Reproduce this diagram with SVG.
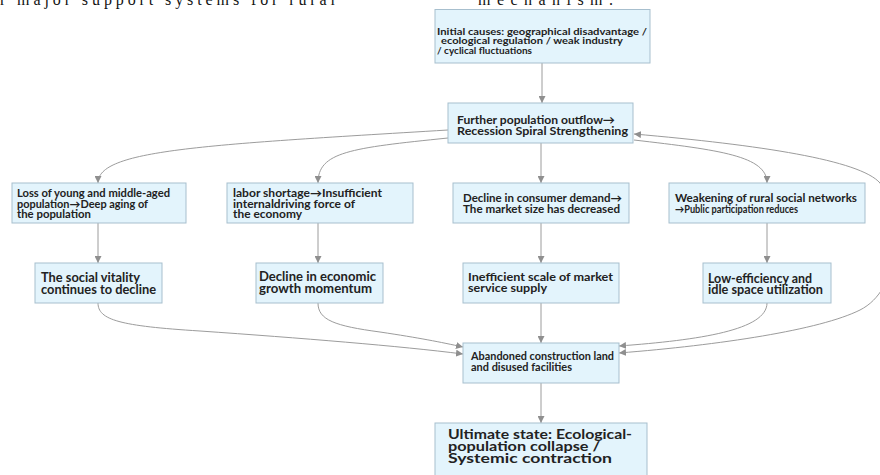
<svg xmlns="http://www.w3.org/2000/svg" width="880" height="475" viewBox="0 0 880 475">
<style>
.box{fill:#e3f4fc;stroke:#a7bfce;stroke-width:1}
.t{font-family:Lato,"Liberation Sans",sans-serif;font-weight:bold;fill:#222}
.edge{fill:none;stroke:#9c9c9c;stroke-width:1}
.cap{font-family:"Liberation Serif",serif;font-size:16px;fill:#111}
</style>
<defs>
<marker id="ah" viewBox="0 0 10 10" refX="10" refY="5" markerWidth="7" markerHeight="7" markerUnits="userSpaceOnUse" orient="auto-start-reverse">
<path d="M0,0 L10,5 L0,10 z" fill="#8f8f8f"/>
</marker>
</defs>
<g id="caption">
<text class="cap" x="0" y="5" textLength="335" lengthAdjust="spacing">r major support systems for rural</text>
<text class="cap" x="478" y="5" textLength="135" lengthAdjust="spacing">mechanism.</text>
</g>
<g id="connectors">
<path class="edge" d="M542,63 L542,103" marker-end="url(#ah)"/>
<path class="edge" d="M448,130 C200,145 98,150 98,183" marker-end="url(#ah)"/>
<path class="edge" d="M448,138 C350,148 318,152 318,183" marker-end="url(#ah)"/>
<path class="edge" d="M541,143 L541,183" marker-end="url(#ah)"/>
<path class="edge" d="M634,140 C720,150 767,156 767,183" marker-end="url(#ah)"/>
<path class="edge" d="M98,223 L98,263" marker-end="url(#ah)"/>
<path class="edge" d="M318,223 L318,263" marker-end="url(#ah)"/>
<path class="edge" d="M541,223 L541,263" marker-end="url(#ah)"/>
<path class="edge" d="M767,223 L767,263" marker-end="url(#ah)"/>
<path class="edge" d="M98,303 C98,320 120,326 200,331 C300,338 400,346 463,354" marker-end="url(#ah)"/>
<path class="edge" d="M318,303 C318,320 335,326 380,332 C420,338 440,342 463,347" marker-end="url(#ah)"/>
<path class="edge" d="M541,303 L541,343" marker-end="url(#ah)"/>
<path class="edge" d="M767,303 C767,330 700,340 619,346" marker-end="url(#ah)"/>
<path class="edge" d="M619,353 C720,345 820,330 860,310 C900,290 905,220 880,183 C860,160 760,145 634,134" marker-start="url(#ah)" marker-end="url(#ah)"/>
<path class="edge" d="M541,383 L541,423" marker-end="url(#ah)"/>
</g>
<g id="n1">
<rect class="box" x="435" y="9.5" width="215" height="53.5"/>
<text class="t" font-size="9.5" x="437" y="34.5" textLength="210" lengthAdjust="spacingAndGlyphs">Initial causes: geographical disadvantage /</text>
<text class="t" font-size="9.5" x="441" y="44" textLength="182" lengthAdjust="spacingAndGlyphs">ecological regulation / weak industry</text>
<text class="t" font-size="9.5" x="437" y="53.5" textLength="95" lengthAdjust="spacingAndGlyphs">/ cyclical fluctuations</text>
</g>
<g id="n2">
<rect class="box" x="448" y="103" width="185" height="40"/>
<text class="t" font-size="11.5" x="457" y="123.5" textLength="158" lengthAdjust="spacingAndGlyphs">Further population outflow→</text>
<text class="t" font-size="11.5" x="457" y="135" textLength="171" lengthAdjust="spacingAndGlyphs">Recession Spiral Strengthening</text>
</g>
<g id="n3">
<rect class="box" x="12" y="183" width="174" height="40"/>
<text class="t" font-size="10.5" x="17" y="197" textLength="153" lengthAdjust="spacingAndGlyphs">Loss of young and middle-aged</text>
<text class="t" font-size="10.5" x="17" y="207.5" textLength="131" lengthAdjust="spacingAndGlyphs">population→Deep aging of</text>
<text class="t" font-size="10.5" x="17" y="218" textLength="74" lengthAdjust="spacingAndGlyphs">the population</text>
</g>
<g id="n4">
<rect class="box" x="227" y="183" width="186" height="40"/>
<text class="t" font-size="10.5" x="233" y="197" textLength="149" lengthAdjust="spacingAndGlyphs">labor shortage→Insufficient</text>
<text class="t" font-size="10.5" x="233" y="207.5" textLength="122" lengthAdjust="spacingAndGlyphs">internaldriving force of</text>
<text class="t" font-size="10.5" x="233" y="218" textLength="69" lengthAdjust="spacingAndGlyphs">the economy</text>
</g>
<g id="n5">
<rect class="box" x="453" y="183" width="176" height="40"/>
<text class="t" font-size="10.5" x="463" y="202" textLength="159" lengthAdjust="spacingAndGlyphs">Decline in consumer demand→</text>
<text class="t" font-size="10.5" x="463" y="213" textLength="157" lengthAdjust="spacingAndGlyphs">The market size has decreased</text>
</g>
<g id="n6">
<rect class="box" x="669" y="183" width="196" height="40"/>
<text class="t" font-size="10.5" x="675" y="202" textLength="182" lengthAdjust="spacingAndGlyphs">Weakening of rural social networks</text>
<text class="t" font-size="10.5" x="675" y="213" textLength="123" lengthAdjust="spacingAndGlyphs">→Public participation reduces</text>
</g>
<g id="n7">
<rect class="box" x="35" y="263" width="127" height="40"/>
<text class="t" font-size="12.5" x="41" y="282" textLength="99" lengthAdjust="spacingAndGlyphs">The social vitality</text>
<text class="t" font-size="12.5" x="41" y="294" textLength="115" lengthAdjust="spacingAndGlyphs">continues to decline</text>
</g>
<g id="n8">
<rect class="box" x="256" y="263" width="127" height="40"/>
<text class="t" font-size="12.5" x="259" y="281" textLength="117" lengthAdjust="spacingAndGlyphs">Decline in economic</text>
<text class="t" font-size="12.5" x="259" y="292.5" textLength="113" lengthAdjust="spacingAndGlyphs">growth momentum</text>
</g>
<g id="n9">
<rect class="box" x="463" y="263" width="156" height="40"/>
<text class="t" font-size="12" x="468" y="280.5" textLength="145" lengthAdjust="spacingAndGlyphs">Inefficient scale of market</text>
<text class="t" font-size="12" x="468" y="291.5" textLength="79" lengthAdjust="spacingAndGlyphs">service supply</text>
</g>
<g id="n10">
<rect class="box" x="703" y="263" width="128" height="40"/>
<text class="t" font-size="12.5" x="708" y="282.5" textLength="104" lengthAdjust="spacingAndGlyphs">Low-efficiency and</text>
<text class="t" font-size="12.5" x="708" y="293.5" textLength="115" lengthAdjust="spacingAndGlyphs">idle space utilization</text>
</g>
<g id="n11">
<rect class="box" x="463" y="343" width="156" height="40"/>
<text class="t" font-size="10.5" x="471" y="359.5" textLength="143" lengthAdjust="spacingAndGlyphs">Abandoned construction land</text>
<text class="t" font-size="10.5" x="471" y="370.5" textLength="101" lengthAdjust="spacingAndGlyphs">and disused facilities</text>
</g>
<g id="n12">
<rect class="box" x="435" y="423" width="212" height="60"/>
<text class="t" font-size="14" x="448" y="439" textLength="184" lengthAdjust="spacingAndGlyphs">Ultimate state: Ecological-</text>
<text class="t" font-size="14" x="448" y="451" textLength="152" lengthAdjust="spacingAndGlyphs">population collapse /</text>
<text class="t" font-size="14" x="448" y="463" textLength="164" lengthAdjust="spacingAndGlyphs">Systemic contraction</text>
</g>
</svg>
